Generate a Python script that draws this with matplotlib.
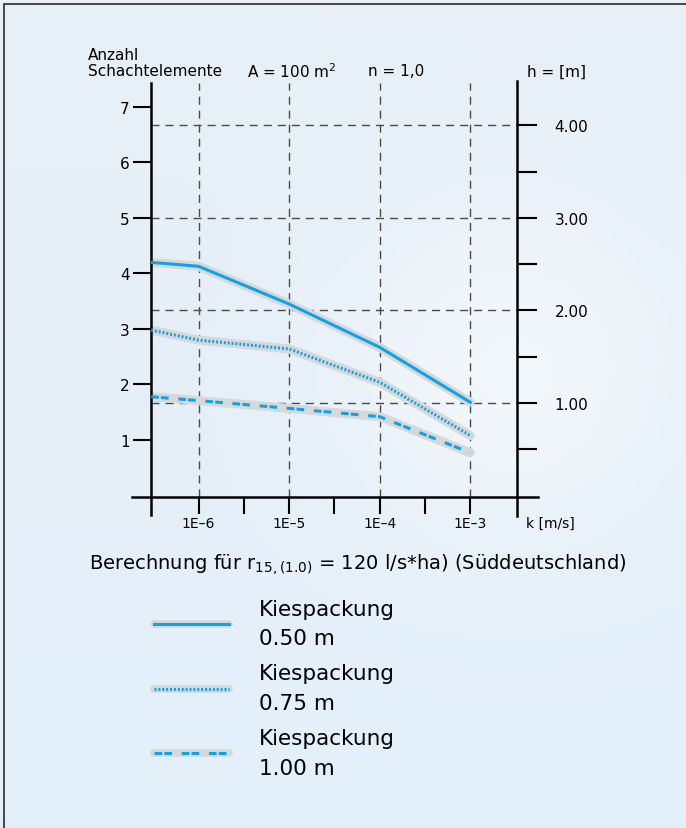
import matplotlib
matplotlib.use("Agg")
import matplotlib.pyplot as plt
import numpy as np
from matplotlib.lines import Line2D
from matplotlib.patches import Rectangle
from matplotlib.ticker import FixedLocator, NullFormatter

plt.rcParams["font.family"] = ["DejaVu Sans"]
plt.rcParams["lines.scale_dashes"] = False

# k values [m/s] and number of shaft elements per gravel packing
k_vals = [3e-7, 1e-6, 1e-5, 1e-4, 1e-3]
n_050 = [4.20, 4.13, 3.45, 2.67, 1.68]
n_075 = [2.98, 2.80, 2.64, 2.04, 1.08]
n_100 = [1.78, 1.71, 1.57, 1.42, 0.77]

labels = ["Kiespackung\n0.50 m", "Kiespackung\n0.75 m", "Kiespackung\n1.00 m"]
x_ticks = [1e-6, 1e-5, 1e-4, 1e-3]
x_labels = ["1E\u20136", "1E\u20135", "1E\u20134", "1E\u20133"]
n_ticks = [1, 2, 3, 4, 5, 6, 7]
h_ticks = [1.0, 2.0, 3.0, 4.0]
h_minor = [0.5, 1.5, 2.5, 3.5]
h_per_element = 0.6

BLUE = "#0fa3e3"
HALO = "#d6d8da"
GRID = "#4a4a4a"
grid_ls = (0, (5.8, 4.3))
styles = ["-", (0, (1.4, 1.4)), (0, (5.5, 1.6, 5.5, 7))]

fig = plt.figure(figsize=(6.86, 8.29), dpi=100)

# background
bg = fig.add_axes([0, 0, 1, 1], zorder=-10)
yy, xx = np.mgrid[0:1:200j, 0:1:200j]
base = np.zeros((200, 200, 3))
top = np.array([0.91, 0.94, 0.97])
bot = np.array([0.89, 0.94, 0.98])
for c in range(3):
    base[..., c] = top[c] * (1 - yy) + bot[c] * yy
cloud = np.exp(-(((xx - 0.75) / 0.25) ** 2 + ((yy - 0.45) / 0.2) ** 2))
base = base + (1 - base) * 0.5 * cloud[..., None]
bg.imshow(base, extent=[0, 1, 0, 1], aspect="auto", origin="upper")
bg.add_patch(Rectangle((4 / 686, -0.01), 1.0, 1 - 5 / 829 + 0.01,
                       fill=False, ec="#3a3a3a", lw=1.3))
bg.set_xlim(0, 1)
bg.set_ylim(0, 1)
bg.axis("off")

ax = fig.add_axes([150.5 / 686, 1 - 498 / 829, 366 / 686, 414 / 829])
ax2 = ax.twinx()
ax.set_zorder(ax2.get_zorder() + 1)
ax.patch.set_visible(False)
ax2.patch.set_visible(False)

ylo, yhi = -0.027, 7.432
ax.set_xscale("log")
ax.set_xlim(10 ** -6.53, 10 ** -2.49)
ax.set_ylim(ylo, yhi)
ax2.set_ylim(ylo * h_per_element, yhi * h_per_element)

handles = []
for vals, ls in zip([n_050, n_075, n_100], styles):
    ax.plot(k_vals, vals, color=HALO, lw=6.5, solid_capstyle="round", zorder=2)
    ax.plot(k_vals, vals, color=BLUE, lw=2.2, ls=ls, zorder=3)
    handles.append((Line2D([], [], color=HALO, lw=5.5, solid_capstyle="round"),
                    Line2D([], [], color=BLUE, lw=2.2, ls=ls)))

for sp in list(ax.spines.values()) + list(ax2.spines.values()):
    sp.set_visible(False)

# axis lines, extending past the corners
ax.axvline(10 ** -6.53, ymin=-0.043, ymax=1, color="black", lw=1.8, clip_on=False)
ax.axvline(10 ** -2.49, ymin=-0.045, ymax=1.005, color="black", lw=1.8, clip_on=False)
ax.axhline(ylo, xmin=-0.05, xmax=1.059, color="black", lw=1.8, clip_on=False)

ax.xaxis.set_major_locator(FixedLocator(x_ticks))
ax.xaxis.set_minor_locator(FixedLocator([10 ** -5.5, 10 ** -4.5, 10 ** -3.5]))
ax.xaxis.set_minor_formatter(NullFormatter())
ax.set_xticklabels(x_labels)
ax.tick_params(axis="x", which="both", direction="out", length=12, width=1.5,
               labelsize=10, pad=2, color="black")
ax.set_yticks(n_ticks)
ax.set_yticklabels([str(v) for v in n_ticks])
ax.tick_params(axis="y", direction="out", length=13, width=1.5, labelsize=11,
               pad=2)
ax.grid(axis="x", which="major", color=GRID, lw=1, ls=grid_ls)

ax2.yaxis.set_major_locator(FixedLocator(h_ticks))
ax2.yaxis.set_minor_locator(FixedLocator(h_minor))
ax2.yaxis.set_minor_formatter(NullFormatter())
ax2.set_yticklabels([f"{v:.2f}" for v in h_ticks])
ax2.tick_params(axis="y", which="both", direction="out", length=14.5, width=1.5,
                labelsize=11, pad=13)
ax2.tick_params(axis="x", which="both", bottom=False, labelbottom=False)
ax2.grid(axis="y", which="major", color=GRID, lw=1, ls=grid_ls)

# header texts
fig.text(88 / 686, 1 - 55 / 829, "Anzahl", fontsize=11, va="center")
fig.text(88 / 686, 1 - 72 / 829, "Schachtelemente", fontsize=11, va="center")
fig.text(247 / 686, 1 - 72 / 829, "A = 100 m$^\\mathregular{2}$", fontsize=11, va="center")
fig.text(368 / 686, 1 - 72 / 829, "n = 1,0", fontsize=11, va="center")
fig.text(527 / 686, 1 - 72 / 829, "h = [m]", fontsize=11, va="center")
fig.text(526 / 686, 1 - 524 / 829, "k [m/s]", fontsize=10, va="center")
fig.text(358 / 686, 1 - 565 / 829,
         "Berechnung für r$_\\mathregular{15,(1.0)}$ = 120 l/s*ha) (Süddeutschland)",
         fontsize=14, ha="center", va="center")

leg = fig.legend(handles, labels, loc="upper left",
                 bbox_to_anchor=(143 / 686, 1 - 589 / 829), frameon=False,
                 fontsize=15.5, handlelength=3.5, handletextpad=1.4,
                 labelspacing=0.7, borderpad=0)
for t in leg.get_texts():
    t.set_linespacing(1.6)

fig.savefig("out.png", dpi=100)
